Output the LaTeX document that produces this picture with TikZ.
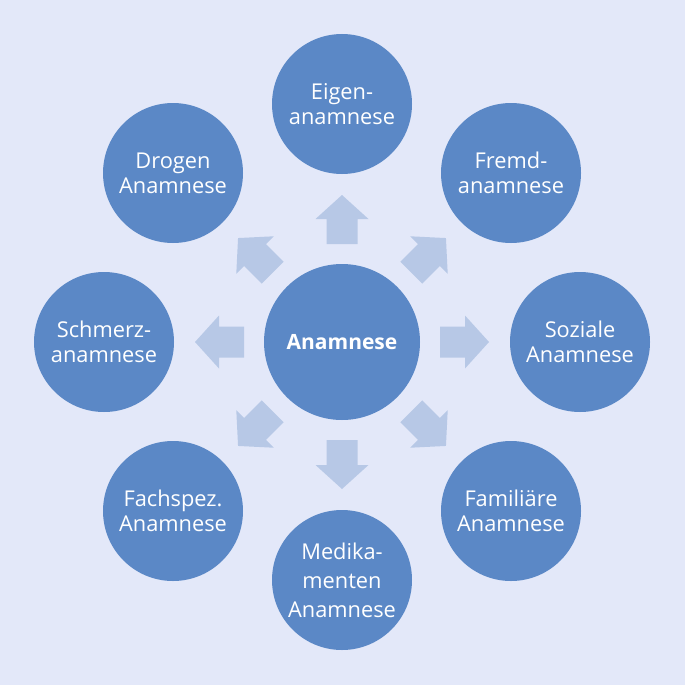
\documentclass[tikz,border=0pt]{standalone}
\usepackage{fontspec}
\setmainfont{Open Sans}
\definecolor{bgcol}{HTML}{E3E8F9}
\definecolor{circcol}{HTML}{5B88C6}
\definecolor{arrcol}{HTML}{B7C8E6}
\begin{document}
\begin{tikzpicture}[x=1pt,y=-1pt,
  outer/.style={circle, fill=circcol, minimum size=140pt, inner sep=0pt, text=white,
    font=\fontsize{21.8}{25}\selectfont, align=center},
  hub/.style={circle, fill=circcol, minimum size=156pt, inner sep=0pt, text=white,
    font=\fontsize{21}{25}\selectfont\bfseries},
  blockarrow/.style={fill=arrcol}]
\fill[bgcol] (0,0) rectangle (685,685);
\useasboundingbox (0,0) rectangle (685,685);
\node[hub] (hub) at (342,342) {Anamnese};
\node[outer] (eigen) at (342,104) {Eigen-\\anamnese};
\node[outer] (fremd) at (511,173) {Fremd-\\anamnese};
\node[outer] (sozial) at (580,342) {Soziale\\Anamnese};
\node[outer] (famil) at (511,511) {Familiäre\\Anamnese};
\node[outer, font=\fontsize{21.8}{29}\selectfont] (medik) at (342,580) {Medika-\\menten\\Anamnese};
\node[outer] (fach) at (173,511) {Fachspez.\\Anamnese};
\node[outer] (schmerz) at (104,342) {Schmerz-\\anamnese};
\node[outer] (drogen) at (173,173) {Drogen\\Anamnese};
\foreach \a in {0,45,...,315}{
  \begin{scope}[shift={(hub.center)}, rotate=\a]
    \fill[blockarrow] (98,-15.5) -- (123,-15.5) -- (123,-26.5) -- (147,0)
      -- (123,26.5) -- (123,15.5) -- (98,15.5) -- cycle;
  \end{scope}
}
\end{tikzpicture}
\end{document}
